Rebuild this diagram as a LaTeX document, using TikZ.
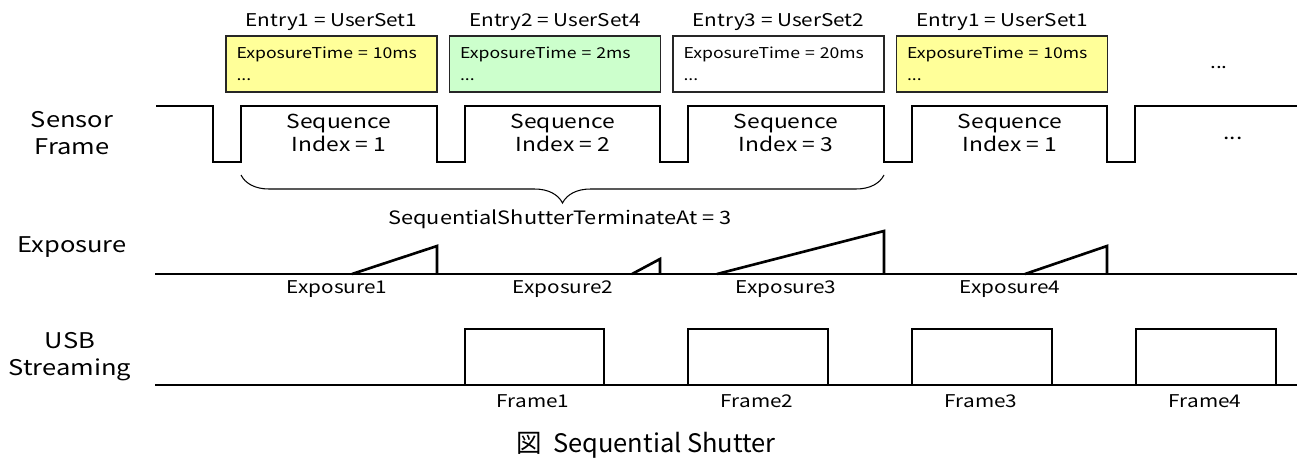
\documentclass[tikz,border=0pt]{standalone}
\usepackage{fontspec}
\setmainfont{Noto Sans CJK JP}[FakeStretch=1.18]
\newfontfamily\capfont{Noto Sans CJK JP}
\usetikzlibrary{positioning, decorations.pathreplacing}

\definecolor{setyellow}{RGB}{255,255,153}
\definecolor{setgreen}{RGB}{204,255,204}

\begin{document}
\begin{tikzpicture}[x=0.02cm, y=-0.02cm,
        wave/.style={line width=1.5pt, line join=miter},
        setbox/.style={draw=black!85, line width=1pt,
                       minimum width=4.22cm, minimum height=1.12cm,
                       text width=3.8cm, inner xsep=0.2cm, align=left,
                       font=\fontsize{8.5}{12.5}\selectfont},
        entry/.style={font=\fontsize{10}{12}\selectfont},
        seqlbl/.style={align=center, font=\fontsize{11}{13}\selectfont},
        rowlbl/.style={align=center, font=\fontsize{12.3}{15.5}\selectfont},
        ticklbl/.style={font=\fontsize{10}{12}\selectfont}]
      \useasboundingbox (0,0) rectangle (1297,464);

      % user sets loaded per sequence entry
      \node[setbox, fill=setyellow] (us1)  at (331.5,64) {ExposureTime = 10ms\\...};
      \node[setbox, fill=setgreen]  (us4)  at (555,64)   {ExposureTime = 2ms\\...};
      \node[setbox, fill=white]     (us2)  at (778.5,64) {ExposureTime = 20ms\\...};
      \node[setbox, fill=setyellow] (us1b) at (1002,64)  {ExposureTime = 10ms\\...};
      \node[entry] (e1) at (331.5,22) {Entry1 = UserSet1};
      \node[entry] (e2) at (555,22)   {Entry2 = UserSet4};
      \node[entry] (e3) at (778.5,22) {Entry3 = UserSet2};
      \node[entry] (e4) at (1002,22)  {Entry1 = UserSet1};
      \node[entry] (edots) at (1219,68) {...};

      % sensor frame
      \node[rowlbl] (lsensor) at (72,133) {Sensor\\Frame};
      \draw[wave] (156,106) -- (213,106) -- (213,162) -- (241,162) -- (241,106)
                  -- (437,106) -- (437,162) -- (465,162) -- (465,106)
                  -- (660,106) -- (660,162) -- (688,162) -- (688,106)
                  -- (884,106) -- (884,162) -- (912,162) -- (912,106)
                  -- (1107,106) -- (1107,162) -- (1135,162) -- (1135,106)
                  -- (1297,106);
      \node[seqlbl] (s1) at (339,133)  {Sequence\\Index = 1};
      \node[seqlbl] (s2) at (563,133)  {Sequence\\Index = 2};
      \node[seqlbl] (s3) at (786,133)  {Sequence\\Index = 3};
      \node[seqlbl] (s4) at (1010,133) {Sequence\\Index = 1};
      \node[seqlbl] (sdots) at (1233,138) {...};

      % terminate brace
      \coordinate (bl) at (241,175);
      \coordinate (br) at (884,175);
      \draw[decorate, decoration={brace, mirror, amplitude=0.56cm}, line width=0.6pt] (bl) -- (br);
      \node[font=\fontsize{10.5}{12}\selectfont] (term) at (560,219) {SequentialShutterTerminateAt = 3};

      % exposure
      \node[rowlbl] (lexp) at (72,247) {Exposure};
      \draw[wave] (155,274) -- (1297,274);
      \draw[wave] (352,274) -- (437,246) -- (437,274);
      \draw[wave] (632,274) -- (660,259) -- (660,274);
      \draw[wave] (717,274) -- (884,231) -- (884,274);
      \draw[wave] (1025,274) -- (1107,246) -- (1107,274);
      \node[ticklbl] (x1) at (337,289)  {Exposure1};
      \node[ticklbl] (x2) at (563,289)  {Exposure2};
      \node[ticklbl] (x3) at (786,289)  {Exposure3};
      \node[ticklbl] (x4) at (1010,289) {Exposure4};

      % usb streaming
      \node[rowlbl] (lusb) at (70,357) {USB\\Streaming};
      \draw[wave] (155,385) -- (1297,385);
      \draw[wave] (465,385) |- (604,329) -- (604,385);
      \draw[wave] (688,385) |- (828,329) -- (828,385);
      \draw[wave] (912,385) |- (1052,329) -- (1052,385);
      \draw[wave] (1136,385) |- (1276,329) -- (1276,385);
      \node[ticklbl] (f1) at (533,401)  {Frame1};
      \node[ticklbl] (f2) at (757,401)  {Frame2};
      \node[ticklbl] (f3) at (981,401)  {Frame3};
      \node[ticklbl] (f4) at (1205,401) {Frame4};

      \node[font=\capfont\fontsize{14.5}{16}\selectfont] (cap) at (646,445) {図\hspace{0.45em}Sequential Shutter};
    \end{tikzpicture}
\end{document}
